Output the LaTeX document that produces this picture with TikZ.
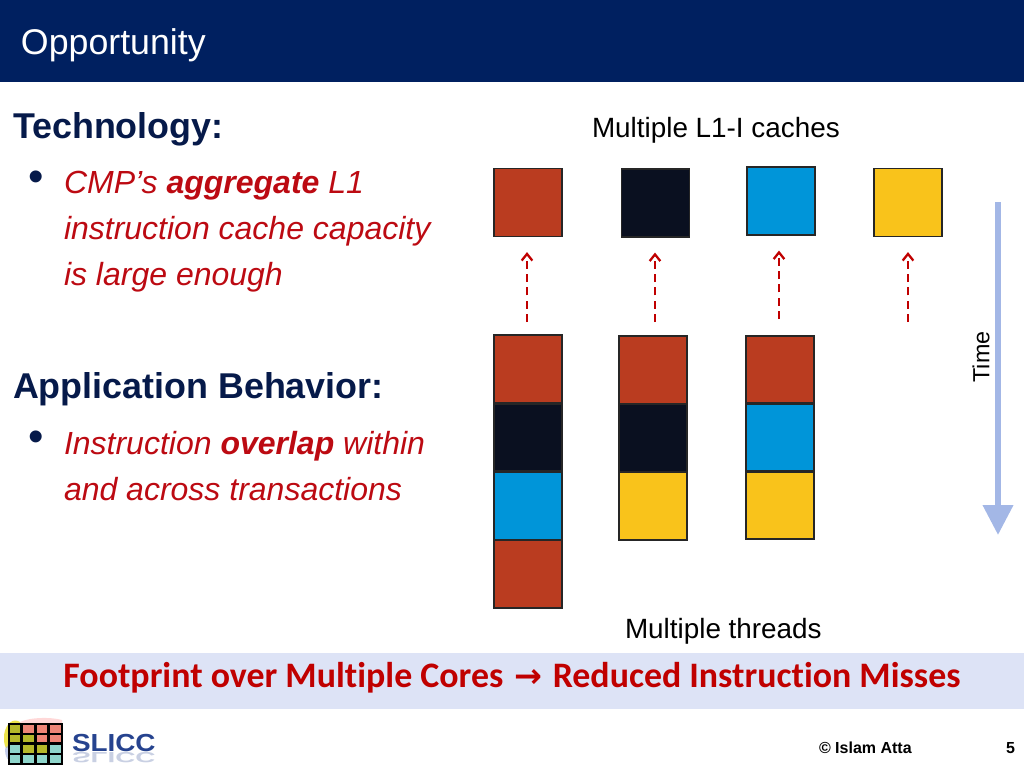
\documentclass[tikz,border=0pt]{standalone}
\usepackage{fontspec}
\setmainfont{Liberation Sans}
\newfontfamily\barfont[Ligatures=NoCommon]{Carlito}
\newfontfamily\symfont{DejaVu Sans}
\usepackage{xcolor}
\usetikzlibrary{arrows.meta}
\definecolor{titleblue}{HTML}{002060}
\definecolor{headblue}{HTML}{061A4A}
\definecolor{bodyred}{HTML}{BC0A12}
\definecolor{barred}{HTML}{C00000}
\definecolor{barblue}{HTML}{DDE3F6}
\definecolor{timeblue}{HTML}{A3B7E6}
\definecolor{blockred}{HTML}{BA3C20}
\definecolor{blocknavy}{HTML}{0A1020}
\definecolor{blockblue}{HTML}{0095D9}
\definecolor{blockyellow}{HTML}{F9C31B}
\definecolor{cellolive}{HTML}{B5B82A}
\definecolor{cellsalmon}{HTML}{EE8577}
\definecolor{cellteal}{HTML}{8FD6CC}
\definecolor{logoblue}{HTML}{26438F}
\tikzset{
  txt/.style={inner sep=0pt, outer sep=0pt, anchor=base west},
  headtxt/.style={txt, font=\fontsize{26.9}{30}\selectfont\bfseries, text=headblue},
  bodytxt/.style={txt, font=\fontsize{24}{28}\selectfont\itshape, text=bodyred},
  labeltxt/.style={txt, font=\fontsize{20.9}{24}\selectfont, text=black},
  bullettxt/.style={txt, font=\fontsize{33}{33}\selectfont, text=headblue},
  cachebox/.style={draw=black!85, line width=1.4pt, minimum width=51pt, minimum height=51pt, inner sep=0pt},
  threadbox/.style={draw=black!85, line width=1.4pt, minimum width=50.5pt, minimum height=50.5pt, inner sep=0pt},
  fetcharrow/.style={-{Straight Barb[length=5pt,width=8pt,line width=1.7pt]}, barred, line width=1.8pt, dash pattern=on 6pt off 4pt},
  timearrow/.style={-{Triangle[length=22.5pt,width=22pt]}, timeblue, line width=4.5pt},
  logocell/.style={draw=black, line width=1.6pt, minimum width=9.5pt, minimum height=7.2pt, inner sep=0pt},
  logotxt/.style={txt, font=\fontsize{18.5}{22}\selectfont\bfseries, text=logoblue, transform shape}
}
\begin{document}
\begin{tikzpicture}[x=0.75pt, y=-0.75pt]
  \useasboundingbox (0,0) rectangle (1024,768);
  \fill[titleblue] (0,0) rectangle (1024,82);
  \node[txt, font=\fontsize{26.8}{30}\selectfont, text=white] (title) at (21,54) {Opportunity};

  \node[headtxt] (techhead) at (13,138) {Technology:};
  \node[bullettxt] (bulletA) at (28,191) {•};
  \node[bodytxt] (lineA) at (64,193) {CMP’s \textbf{aggregate} L1};
  \node[bodytxt] (lineB) at (64,239) {instruction cache capacity};
  \node[bodytxt] (lineC) at (64,285) {is large enough};
  \node[headtxt] (apphead) at (13,398) {Application Behavior:};
  \node[bullettxt] (bulletB) at (28,451) {•};
  \node[bodytxt] (lineD) at (64,454) {Instruction \textbf{overlap} within};
  \node[bodytxt] (lineE) at (64,500) {and across transactions};

  \node[labeltxt] (cachelabel) at (592,137) {Multiple L1-I caches};
  \node[labeltxt] (threadlabel) at (625,638) {Multiple threads};

  \foreach \nm/\cx/\cy/\col in {cacheA/528/202.5/blockred, cacheB/655.5/203/blocknavy, cacheC/781/201/blockblue, cacheD/908/202.5/blockyellow}
    \node[cachebox, fill=\col] (\nm) at (\cx,\cy) {};

  \foreach \nm/\cx/\cy/\col in {
    threadAa/528/369/blockred, threadAb/528/437.5/blocknavy, threadAc/528/506/blockblue, threadAd/528/574/blockred,
    threadBa/653/370/blockred, threadBb/653/438/blocknavy, threadBc/653/506/blockyellow,
    threadCa/780/369.5/blockred, threadCb/780/437.5/blockblue, threadCc/780/505.5/blockyellow}
    \node[threadbox, fill=\col] (\nm) at (\cx,\cy) {};

  \coordinate (footA) at (527,322);
  \coordinate (footB) at (655,322);
  \coordinate (footC) at (779,319);
  \coordinate (footD) at (908,322);
  \draw[fetcharrow, shorten >=11pt] (footA) -- (footA |- cacheA.south);
  \draw[fetcharrow, shorten >=11pt] (footB) -- (footB |- cacheB.south);
  \draw[fetcharrow, shorten >=11pt] (footC) -- (footC |- cacheC.south);
  \draw[fetcharrow, shorten >=11pt] (footD) -- (footD |- cacheD.south);

  \coordinate (timeA) at (998,202);
  \coordinate (timeB) at (998,535);
  \draw[timearrow] (timeA) -- (timeB);
  \node[font=\fontsize{17.5}{20}\selectfont, rotate=90, inner sep=0pt] (timelabel) at (981,357) {Time};

  \fill[barblue] (0,653) rectangle (1024,709);
  \node[inner sep=0pt, anchor=base, text=barred, font=\barfont\fontsize{26.9}{30}\selectfont\bfseries] (barline) at (512,687)
    {Footprint over Multiple Cores\hspace{2pt} {\symfont\fontsize{25}{28}\selectfont\bfseries →}\hspace{2pt} Reduced Instruction Misses};

  \fill[yellow!75!olive, opacity=.7] (4,735) .. controls (6,722) and (14,718) .. (20,722) -- (20,745) -- (6,748) .. controls (4,745) and (4,740) .. (4,735);
  \fill[red!30, opacity=.5] (20,722) .. controls (30,717) and (52,717) .. (62,720) -- (62,726) -- (20,726) -- cycle;
  \fill[cyan!35!blue!40, opacity=.6] (5,750) .. controls (5,746) and (8,745) .. (12,745) -- (12,762) .. controls (8,762) and (5,756) .. (5,750);
  \foreach \nm/\cx/\cy/\col in {
    cellAa/15/729/cellolive, cellAb/28.5/729/cellsalmon, cellAc/42/729/cellsalmon, cellAd/55.5/729/cellsalmon,
    cellBa/15/738.5/cellolive, cellBb/28.5/738.5/cellolive, cellBc/42/738.5/cellsalmon, cellBd/55.5/738.5/cellsalmon,
    cellCa/15/749/cellteal, cellCb/28.5/749/cellolive, cellCc/42/749/cellolive, cellCd/55.5/749/cellteal,
    cellDa/15/759/cellteal, cellDb/28.5/759/cellteal, cellDc/42/759/cellteal, cellDd/55.5/759/cellteal}
    \node[logocell, fill=\col] (\nm) at (\cx,\cy) {};
  \begin{scope}[shift={(72,751)}, xscale=1.13]
    \node[logotxt] (logotext) at (0,0) {SLICC};
  \end{scope}
  \begin{scope}[shift={(72,752)}, xscale=1.13, yscale=-.6]
    \node[logotxt, opacity=.25] (logoshade) at (0,0) {SLICC};
  \end{scope}

  \node[txt, font=\fontsize{12}{14}\selectfont\bfseries] (copyright) at (819,753) {© Islam Atta};
  \node[txt, font=\fontsize{12}{14}\selectfont\bfseries] (pagenum) at (1006,753) {5};
\end{tikzpicture}
\end{document}
